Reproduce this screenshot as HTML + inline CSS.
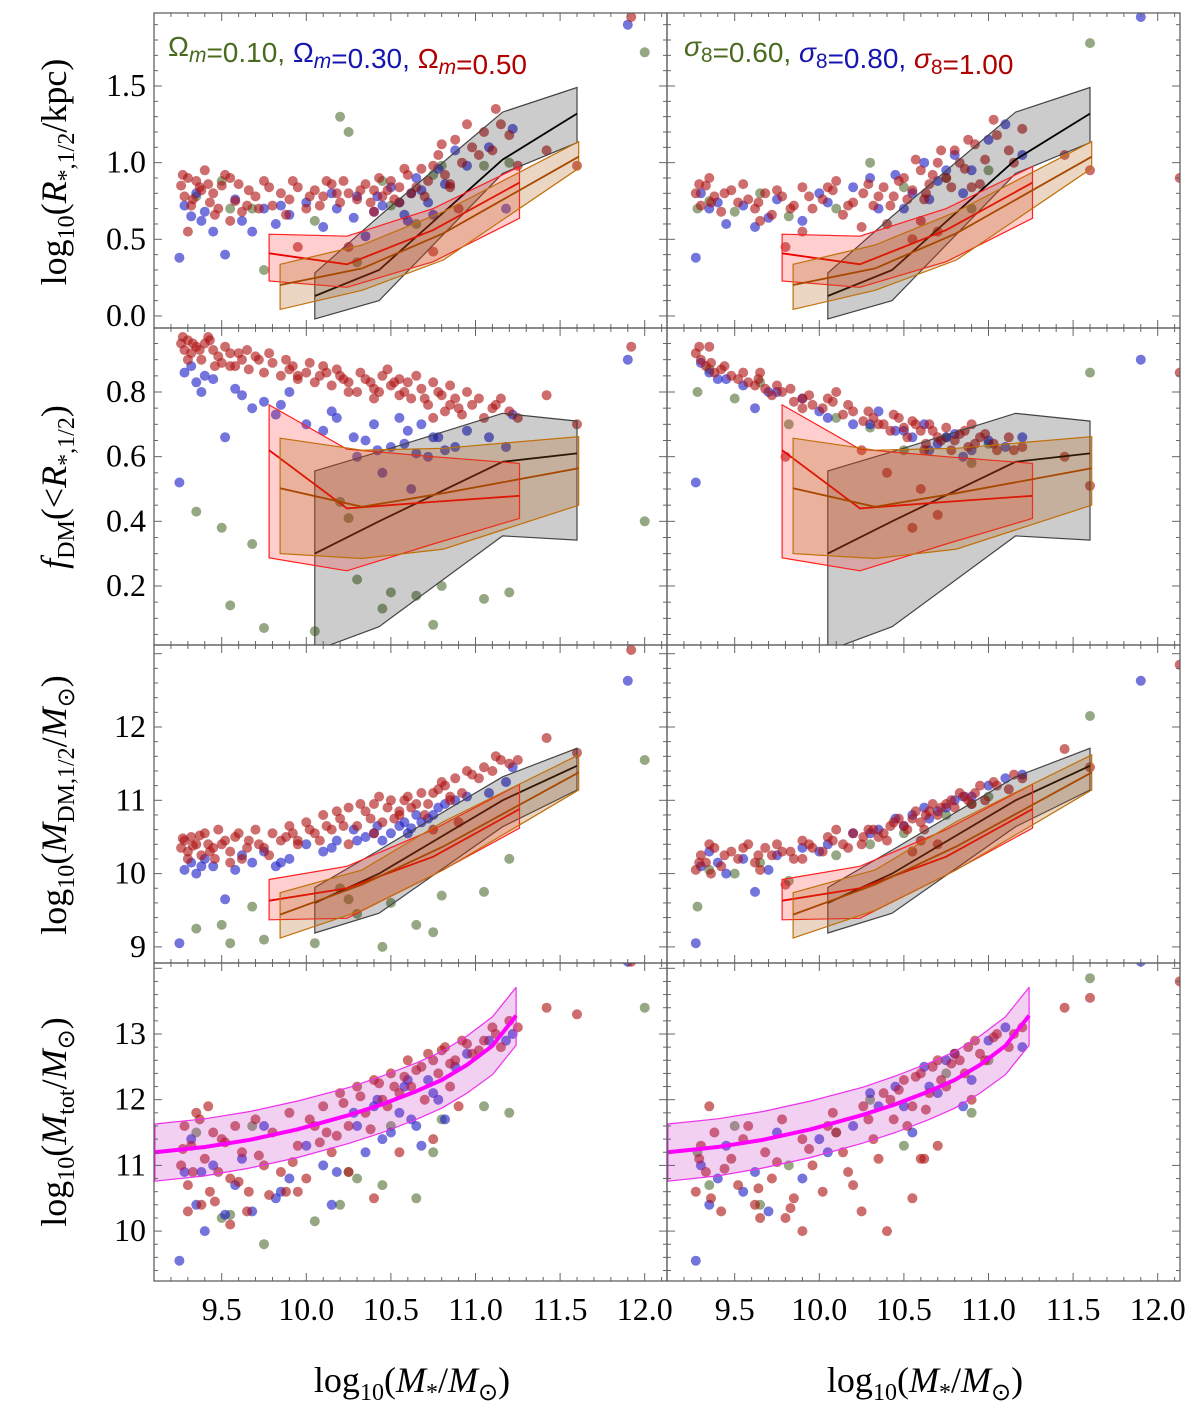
<!DOCTYPE html>
<html><head><meta charset="utf-8"><style>
html,body{margin:0;padding:0;background:#fff;}
svg{display:block;}
</style></head><body>
<svg id="chart" width="1200" height="1412" viewBox="0 0 1200 1412" xmlns="http://www.w3.org/2000/svg">
<defs>
<clipPath id="clipL"><rect x="154" y="13" width="513" height="1268"/></clipPath>
<clipPath id="clipR"><rect x="667" y="13" width="514" height="1268"/></clipPath>
</defs>
<g id="layer"></g>
</svg>
<script>
// ---------------- DATA ----------------
const xTicks = [9.5, 10.0, 10.5, 11.0, 11.5, 12.0];
const yTicksR = [0.0, 0.5, 1.0, 1.5];
const yTicksF = [0.2, 0.4, 0.6, 0.8];
const yTicksMdm = [9, 10, 11, 12];
const yTicksMtot = [10, 11, 12, 13];

const blackX = [10.05, 10.43, 11.16, 11.6];
const blackR_up = [0.28, 0.65, 1.33, 1.49];
const blackR_med = [0.13, 0.30, 1.02, 1.32];
const blackR_lo = [-0.02, 0.10, 0.93, 1.13];
const blackF_up = [0.556, 0.615, 0.734, 0.71];
const blackF_med = [0.30, 0.40, 0.584, 0.61];
const blackF_lo = [0.0, 0.074, 0.355, 0.342];
const blackM_up = [9.81, 10.32, 11.32, 11.71];
const blackM_med = [9.6, 10.0, 11.0, 11.47];
const blackM_lo = [9.19, 9.46, 10.64, 11.14];

const redX = [9.78, 10.24, 10.75, 11.26];
const redR_up = [0.533, 0.52, 0.70, 0.974];
const redR_med = [0.409, 0.337, 0.56, 0.87];
const redR_lo = [0.228, 0.187, 0.354, 0.637];
const redF_up = [0.76, 0.623, 0.60, 0.579];
const redF_med = [0.62, 0.44, 0.46, 0.479];
const redF_lo = [0.287, 0.247, 0.33, 0.409];
const redM_up = [9.92, 10.10, 10.6, 11.22];
const redM_med = [9.63, 9.8, 10.23, 10.88];
const redM_lo = [9.37, 9.39, 9.98, 10.62];

const orX = [9.845, 10.33, 10.81, 11.61];
const orR_up = [0.337, 0.463, 0.68, 1.137];
const orR_med = [0.202, 0.31, 0.539, 1.039];
const orR_lo = [0.043, 0.167, 0.365, 0.963];
const orF_up = [0.657, 0.62, 0.626, 0.662];
const orF_med = [0.502, 0.445, 0.487, 0.564];
const orF_lo = [0.30, 0.285, 0.314, 0.45];
const orM_up = [9.74, 10.05, 10.71, 11.62];
const orM_med = [9.44, 9.85, 10.37, 11.38];
const orM_lo = [9.12, 9.5, 10.05, 11.14];

const magX = [9.105, 9.4, 9.667, 9.95, 10.258, 10.45, 10.65, 10.8, 10.95, 11.1, 11.24];
const magMed = [11.20, 11.28, 11.39, 11.55, 11.77, 11.93, 12.13, 12.30, 12.53, 12.82, 13.28];
const magUp = [11.63, 11.71, 11.82, 11.98, 12.19, 12.36, 12.56, 12.73, 12.97, 13.26, 13.71];
const magLo = [10.76, 10.84, 10.96, 11.12, 11.34, 11.50, 11.70, 11.87, 12.10, 12.38, 12.83];

// galaxies: [logM*, logR, fDM, logMdm, logMtot]
const leftRed = [
[9.26,0.85,0.95,10.35,11.0],[9.28,0.78,0.93,10.45,11.6],[9.30,0.90,0.96,10.30,10.7],[9.32,0.72,0.92,10.50,11.3],
[9.35,0.88,0.94,10.40,11.8],[9.38,0.82,0.90,10.25,10.4],[9.40,0.95,0.95,10.55,11.1],[9.45,0.80,0.93,10.35,11.5],
[9.48,0.70,0.91,10.60,10.9],[9.50,0.85,0.89,10.40,11.4],[9.55,0.90,0.92,10.30,10.8],[9.58,0.75,0.88,10.50,11.6],
[9.62,0.68,0.90,10.20,11.2],[9.66,0.82,0.87,10.45,10.6],[9.70,0.78,0.91,10.60,11.7],[9.75,0.88,0.86,10.35,11.0],
[9.80,0.72,0.89,10.55,11.5],[9.85,0.80,0.85,10.45,10.9],[9.90,0.76,0.87,10.65,11.8],[9.95,0.84,0.84,10.40,11.3],
[10.00,0.70,0.86,10.70,10.8],[10.05,0.82,0.83,10.55,11.6],[10.10,0.78,0.88,10.80,11.9],[10.15,0.86,0.82,10.60,11.2],
[10.20,0.74,0.85,10.75,12.1],[10.25,0.80,0.83,10.90,11.6],[10.30,0.76,0.80,10.65,12.2],[10.35,0.86,0.84,10.85,11.8],
[10.40,0.82,0.81,10.95,12.3],[10.45,0.78,0.85,10.70,12.0],[10.50,0.88,0.82,11.00,12.4],[10.55,0.84,0.79,10.85,12.1],
[10.60,0.92,0.83,11.05,12.6],[10.62,0.80,0.78,10.90,12.2],[10.68,0.96,0.81,11.10,12.5],[10.72,0.88,0.76,10.95,12.7],
[10.78,1.05,0.80,11.15,12.4],[10.82,0.92,0.74,11.20,12.8],[10.88,1.15,0.78,11.30,12.6],[10.92,1.00,0.73,11.10,12.9],
[10.98,1.10,0.76,11.35,12.7],[11.05,1.20,0.72,11.45,12.9],[11.10,1.08,0.75,11.40,13.1],[11.15,1.25,0.78,11.55,12.8],
[11.20,1.18,0.74,11.50,13.2],[11.42,1.08,0.79,11.85,13.4],[11.60,0.98,0.70,11.65,13.3],[11.92,1.95,0.94,13.05,14.1],
[9.30,0.55,0.90,10.20,10.3],[9.95,0.45,0.85,10.45,10.6],[10.25,0.45,0.80,10.40,10.9],[10.75,0.42,0.72,10.60,11.4],
[10.40,0.68,0.78,10.55,10.5],[9.55,0.62,0.88,10.15,10.1],[9.42,0.86,0.97,10.40,11.9],[9.65,0.72,0.93,10.35,10.3],
[10.12,0.88,0.86,10.65,11.5],[10.55,0.74,0.84,10.80,11.2],[10.85,0.86,0.82,11.05,12.2],[9.88,0.66,0.90,10.50,10.6],
[9.27,0.92,0.97,10.48,11.25],[9.33,0.76,0.95,10.38,10.9],[9.37,0.84,0.93,10.52,11.7],[9.43,0.74,0.96,10.30,10.6],
[9.52,0.92,0.94,10.45,11.35],[9.6,0.86,0.92,10.55,10.75],[9.72,0.70,0.90,10.40,11.15],[9.78,0.84,0.92,10.25,10.55],
[9.92,0.88,0.88,10.55,11.05],[10.02,0.78,0.89,10.60,11.7],[10.08,0.72,0.85,10.45,11.35],[10.18,0.80,0.87,10.85,11.45],
[10.22,0.88,0.84,10.65,11.95],[10.32,0.82,0.86,10.95,12.05],[10.38,0.74,0.83,10.75,11.55],[10.43,0.90,0.80,11.05,12.25],
[10.48,0.82,0.87,10.90,11.9],[10.52,0.76,0.83,10.75,12.2],[10.58,0.96,0.80,11.00,12.35],[10.65,0.84,0.85,10.95,12.45],
[10.7,0.78,0.78,10.80,12.0],[10.75,0.98,0.83,11.10,12.6],[10.8,1.12,0.79,11.25,12.75],[10.85,0.84,0.76,11.00,12.55],
[10.95,1.25,0.80,11.40,12.85],[11.02,1.05,0.78,11.30,12.75],[11.12,1.35,0.76,11.60,13.0],[11.25,0.98,0.72,11.55,13.1],
[9.46,0.66,0.88,10.20,10.45],[10.9,0.70,0.75,10.70,11.9]
];
const leftBlue = [
[9.25,0.38,0.52,9.05,9.55],[9.28,0.72,0.86,10.05,10.9],[9.32,0.65,0.88,10.15,11.4],[9.35,0.80,0.83,10.00,10.4],
[9.40,0.68,0.85,10.20,10.0],[9.45,0.55,0.84,10.10,11.0],[9.52,0.40,0.66,9.65,10.25],[9.58,0.76,0.81,10.05,10.7],
[9.62,0.62,0.79,10.25,11.1],[9.68,0.55,0.75,10.15,10.3],[9.75,0.70,0.77,10.30,11.6],[9.82,0.60,0.73,10.10,10.5],
[9.90,0.66,0.80,10.20,10.8],[10.00,0.74,0.70,10.40,11.3],[10.10,0.58,0.68,10.30,11.0],[10.18,0.70,0.72,10.45,10.9],
[10.28,0.64,0.66,10.60,11.8],[10.35,0.52,0.65,10.50,11.2],[10.42,0.78,0.62,10.65,12.0],[10.50,0.84,0.63,10.55,11.5],
[10.58,0.66,0.64,10.70,12.2],[10.65,0.90,0.61,10.80,11.6],[10.72,0.74,0.60,10.75,12.3],[10.78,0.96,0.66,10.90,12.0],
[10.88,1.08,0.63,11.00,12.5],[10.95,0.98,0.68,11.05,12.7],[11.08,1.10,0.66,11.10,12.9],[11.22,1.22,0.73,11.45,13.0],
[11.18,0.70,0.63,11.25,12.9],[11.90,1.90,0.90,12.63,14.1],[10.45,0.72,0.55,10.45,11.4],[10.62,0.80,0.50,10.62,11.7],
[10.55,0.74,0.72,10.65,11.8],[10.6,0.62,0.68,10.55,12.3],[10.68,0.82,0.70,10.70,11.3],[10.75,0.66,0.66,10.80,12.1],
[10.82,0.86,0.62,10.95,11.7],[9.38,0.62,0.80,10.10,10.9],[9.85,0.72,0.76,10.15,10.6],[10.15,0.80,0.74,10.35,10.4],
[10.4,0.68,0.70,10.55,11.9],[10.3,0.78,0.60,10.45,11.6]
];
const leftGreen = [
[9.35,0.78,0.43,9.25,11.5],[9.50,0.88,0.38,9.30,10.2],[9.55,0.70,0.14,9.05,10.25],[9.75,0.30,0.07,9.10,9.8],
[9.68,0.70,0.33,9.55,11.6],[10.05,0.62,0.06,9.05,10.15],[10.20,1.30,0.46,9.80,10.4],[10.25,1.20,0.41,9.65,10.9],
[10.45,0.88,0.13,9.00,10.7],[10.50,0.72,0.18,9.60,11.6],[10.65,0.60,0.17,9.30,10.5],[10.80,0.98,0.20,9.70,11.7],
[11.05,0.98,0.16,9.75,11.9],[10.30,0.35,0.22,9.45,10.8],[10.75,0.92,0.08,9.20,11.2],[11.20,1.00,0.18,10.2,11.8],
[12.00,1.72,0.40,11.55,13.4]
];
const rightRed = [
[9.27,0.80,0.92,10.05,10.6],[9.30,0.72,0.90,10.25,11.3],[9.33,0.85,0.88,10.15,10.9],[9.38,0.78,0.86,10.35,11.5],
[9.42,0.68,0.87,10.10,10.3],[9.48,0.82,0.85,10.30,11.1],[9.52,0.74,0.84,10.20,10.7],[9.58,0.76,0.83,10.40,11.6],
[9.62,0.70,0.82,10.15,10.4],[9.68,0.80,0.81,10.35,11.2],[9.72,0.66,0.79,10.25,10.8],[9.78,0.78,0.80,10.30,11.7],
[9.85,0.72,0.77,10.20,10.5],[9.90,0.84,0.78,10.45,11.4],[9.96,0.70,0.76,10.35,11.0],[10.02,0.76,0.75,10.30,10.6],
[10.08,0.82,0.77,10.45,11.8],[10.14,0.66,0.73,10.40,11.2],[10.20,0.74,0.74,10.55,10.7],[10.26,0.80,0.71,10.50,11.9],
[10.32,0.72,0.72,10.60,11.4],[10.38,0.84,0.70,10.55,12.1],[10.44,0.78,0.73,10.70,11.7],[10.50,0.90,0.69,10.65,12.3],
[10.55,0.82,0.71,10.75,11.9],[10.60,0.95,0.68,10.70,12.4],[10.65,0.86,0.70,10.85,12.1],[10.70,1.00,0.66,10.80,12.6],
[10.75,0.90,0.69,10.95,12.2],[10.80,1.08,0.65,10.90,12.7],[10.86,0.96,0.68,11.05,12.4],[10.92,1.12,0.64,11.10,12.9],
[10.98,1.02,0.67,11.00,12.6],[11.05,1.18,0.62,11.20,13.0],[11.12,1.08,0.66,11.15,12.8],[11.20,1.22,0.63,11.30,13.1],
[11.45,1.05,0.60,11.70,13.4],[11.60,0.95,0.51,11.45,13.55],[10.55,0.50,0.38,10.30,10.5],[10.70,0.55,0.42,10.40,11.3],
[9.80,0.45,0.60,9.85,10.2],[10.40,0.60,0.55,10.45,10.0],[12.13,0.90,0.86,12.85,13.8],[9.35,0.90,0.94,10.40,11.9],
[9.65,0.62,0.86,10.05,10.2],[10.10,0.88,0.80,10.60,11.5],[10.62,0.76,0.62,10.60,11.1],[10.90,0.84,0.70,10.95,12.0],
[9.29,0.86,0.94,10.15,11.1],[9.36,0.74,0.89,10.00,10.5],[9.44,0.80,0.88,10.25,10.95],[9.55,0.86,0.86,10.35,11.4],
[9.64,0.74,0.84,10.25,10.65],[9.75,0.82,0.82,10.40,11.05],[9.83,0.70,0.81,10.30,10.35],[9.94,0.78,0.79,10.40,11.25],
[10.05,0.84,0.78,10.50,11.6],[10.17,0.72,0.76,10.35,10.9],[10.29,0.86,0.74,10.60,11.7],[10.35,0.78,0.70,10.50,11.1],
[10.42,0.72,0.68,10.65,12.0],[10.47,0.88,0.72,10.75,12.15],[10.52,0.76,0.66,10.60,11.6],[10.57,1.02,0.70,10.85,12.35],
[10.63,0.80,0.64,10.80,11.85],[10.67,0.92,0.68,10.95,12.5],[10.72,1.08,0.65,10.90,12.3],[10.78,0.84,0.62,11.00,12.55],
[10.83,1.0,0.67,11.10,12.6],[10.88,1.15,0.63,11.00,12.8],[10.95,0.86,0.66,11.20,12.7],[11.03,1.28,0.64,11.25,12.95],
[11.15,1.00,0.62,11.35,13.0],[10.6,0.62,0.50,10.45,11.1],[10.25,0.58,0.62,10.40,10.3],[9.9,0.55,0.75,10.2,10.0]
];
const rightBlue = [
[9.27,0.38,0.52,9.05,9.55],[9.30,0.80,0.89,10.10,11.0],[9.35,0.70,0.86,10.30,10.4],[9.45,0.60,0.84,10.00,11.3],
[9.55,0.72,0.82,10.20,10.6],[9.62,0.58,0.75,9.75,10.9],[9.75,0.76,0.80,10.25,11.5],[9.90,0.62,0.78,10.35,10.8],
[10.05,0.74,0.72,10.40,11.2],[10.20,0.84,0.70,10.55,11.6],[10.35,0.70,0.74,10.60,11.9],[10.45,0.92,0.68,10.75,12.2],
[10.55,0.80,0.66,10.80,11.5],[10.62,1.00,0.70,10.90,12.5],[10.70,0.88,0.64,10.85,12.1],[10.80,1.05,0.67,11.00,12.7],
[10.90,0.95,0.62,11.05,12.3],[11.00,1.15,0.65,11.20,12.9],[11.10,1.25,0.63,11.30,13.1],[11.20,1.05,0.66,11.35,12.8],
[11.90,1.95,0.90,12.63,14.1],[9.4,0.74,0.84,10.15,10.8],[9.7,0.64,0.80,10.05,10.3],[10.0,0.80,0.74,10.30,11.4],
[10.5,0.70,0.68,10.65,11.9],[10.75,0.95,0.66,10.90,12.6],[10.85,0.80,0.60,11.05,11.9],[10.65,0.76,0.62,10.75,12.2],
[10.3,0.90,0.70,10.55,12.1]
];
const rightGreen = [
[9.28,0.70,0.80,9.55,11.2],[9.35,0.75,0.87,10.05,10.7],[9.50,0.68,0.78,10.00,11.6],[9.65,0.80,0.83,10.15,10.4],
[9.82,0.65,0.70,9.90,11.0],[10.10,0.70,0.72,10.25,11.5],[10.30,1.00,0.69,10.40,12.0],[10.50,0.84,0.62,10.55,11.3],
[10.75,0.90,0.66,10.80,12.4],[10.90,0.70,0.58,10.95,11.8],[11.00,0.95,0.64,11.05,12.6],[11.60,1.78,0.86,12.15,13.85]
];

// ---------------- GEOMETRY ----------------
const NS = 'http://www.w3.org/2000/svg';
const layer = document.getElementById('layer');
const colX0 = [154, 667];
const panelW = 513;
const rowY0 = [13, 328, 645, 963];
const rowY1 = [328, 645, 963, 1281];
function xScale(col, v) { return colX0[col] + 152.3 + (v - 10) * 169.2; }
const yScales = [
  v => 86 + (1.5 - v) * 153.3,
  v => 392 + (0.8 - v) * 323.3,
  v => 727 + (12 - v) * 73.3,
  v => 1034 + (13 - v) * 65.7
];
function mk(tag, attrs, parent) {
  const e = document.createElementNS(NS, tag);
  for (const k in attrs) e.setAttribute(k, attrs[k]);
  (parent || layer).appendChild(e);
  return e;
}

const dotColors = { red: 'rgba(175,20,20,0.62)', blue: 'rgba(30,30,200,0.62)', green: 'rgba(85,115,55,0.62)' };
const colData = [
  { red: leftRed, blue: leftBlue, green: leftGreen },
  { red: rightRed, blue: rightBlue, green: rightGreen }
];
const bandSets = [
  [{ x: blackX, up: blackR_up, med: blackR_med, lo: blackR_lo, k: 'black' },
   { x: redX, up: redR_up, med: redR_med, lo: redR_lo, k: 'red' },
   { x: orX, up: orR_up, med: orR_med, lo: orR_lo, k: 'orange' }],
  [{ x: blackX, up: blackF_up, med: blackF_med, lo: blackF_lo, k: 'black' },
   { x: redX, up: redF_up, med: redF_med, lo: redF_lo, k: 'red' },
   { x: orX, up: orF_up, med: orF_med, lo: orF_lo, k: 'orange' }],
  [{ x: blackX, up: blackM_up, med: blackM_med, lo: blackM_lo, k: 'black' },
   { x: redX, up: redM_up, med: redM_med, lo: redM_lo, k: 'red' },
   { x: orX, up: orM_up, med: orM_med, lo: orM_lo, k: 'orange' }]
];
const bandStyle = {
  black: { fill: 'rgba(0,0,0,0.2)', edge: '#444', med: '#000' },
  red: { fill: 'rgba(255,30,30,0.22)', edge: '#ff2020', med: '#ee0000' },
  orange: { fill: 'rgba(170,90,10,0.25)', edge: '#c0700a', med: '#a84800' }
};

for (let col = 0; col < 2; col++) {
  const clip = mk('g', { 'clip-path': col === 0 ? 'url(#clipL)' : 'url(#clipR)' });
  
  
  for (let row = 0; row < 4; row++) {
    const ys = yScales[row];
    const g = mk('g', {}, clip);
    
    
    const cp = mk('clipPath', { id: 'pc' + col + row }, g);
    mk('rect', { x: colX0[col], y: rowY0[row], width: panelW, height: rowY1[row] - rowY0[row] }, cp);
    const inner = mk('g', { 'clip-path': 'url(#pc' + col + row + ')' }, g);
    ['green', 'blue', 'red'].forEach(c => {
      colData[col][c].forEach(p => {
        const d = mk('circle', { cx: xScale(col, p[0]).toFixed(1), cy: ys(p[row + 1]).toFixed(1), r: 5, fill: dotColors[c] }, inner);
        
        
      });
    });
    if (row < 3) {
      bandSets[row].forEach(b => {
        const st = bandStyle[b.k];
        const upPts = b.x.map((v, i) => xScale(col, v).toFixed(1) + ',' + ys(b.up[i]).toFixed(1));
        const loPts = b.x.map((v, i) => xScale(col, v).toFixed(1) + ',' + ys(b.lo[i]).toFixed(1)).reverse();
        const poly = mk('polygon', { points: upPts.concat(loPts).join(' '), fill: st.fill, stroke: st.edge, 'stroke-width': 1.2 }, inner);
        
        
        const medPts = b.x.map((v, i) => xScale(col, v).toFixed(1) + ',' + ys(b.med[i]).toFixed(1));
        const ln = mk('polyline', { points: medPts.join(' '), fill: 'none', stroke: st.med, 'stroke-width': 1.8 }, inner);
        
        
      });
    } else {
      const upPts = magX.map((v, i) => xScale(col, v).toFixed(1) + ',' + ys(magUp[i]).toFixed(1));
      const loPts = magX.map((v, i) => xScale(col, v).toFixed(1) + ',' + ys(magLo[i]).toFixed(1)).reverse();
      const poly = mk('polygon', { points: upPts.concat(loPts).join(' '), fill: 'rgba(190,40,190,0.22)', stroke: '#ee30ee', 'stroke-width': 1.2, 'stroke-linejoin': 'round' }, inner);
      
      
      const medPts = magX.map((v, i) => xScale(col, v).toFixed(1) + ',' + ys(magMed[i]).toFixed(1));
      const ln = mk('polyline', { points: medPts.join(' '), fill: 'none', stroke: '#ff00ff', 'stroke-width': 4, 'stroke-linejoin': 'round' }, inner);
      
      
    }
    const fr = mk('rect', { x: colX0[col], y: rowY0[row], width: panelW, height: rowY1[row] - rowY0[row], fill: 'none', stroke: '#555', 'stroke-width': 1.2 }, layer);
    
    
    for (let t = 9.1; t <= 12.15; t += 0.1) {
      const xx = xScale(col, t);
      if (xx < colX0[col] + 1 || xx > colX0[col] + panelW - 1) continue;
      const major = Math.abs(t * 2 - Math.round(t * 2)) < 0.01;
      const L = major ? 8 : 4;
      mk('line', { x1: xx, x2: xx, y1: rowY1[row], y2: rowY1[row] - L, stroke: '#666', 'stroke-width': 1 });
      mk('line', { x1: xx, x2: xx, y1: rowY0[row], y2: rowY0[row] + L, stroke: '#666', 'stroke-width': 1 });
    }
    const steps = [[-0.1, 2.0, 0.1, 0.5], [0.0, 1.0, 0.05, 0.2], [8.6, 13.2, 0.2, 1], [9.2, 14.2, 0.2, 1]][row];
    for (let t = steps[0]; t <= steps[1] + 1e-6; t += steps[2]) {
      const yy = ys(t);
      if (yy < rowY0[row] + 2 || yy > rowY1[row] - 2) continue;
      const major = Math.abs(t / steps[3] - Math.round(t / steps[3])) < 0.01;
      const L = major ? 8 : 4;
      mk('line', { x1: colX0[col], x2: colX0[col] + L, y1: yy, y2: yy, stroke: '#666', 'stroke-width': 1 });
      mk('line', { x1: colX0[col] + panelW, x2: colX0[col] + panelW - L, y1: yy, y2: yy, stroke: '#666', 'stroke-width': 1 });
    }
  }
  xTicks.forEach(v => {
    const t = mk('text', { x: xScale(col, v), y: 1320, 'text-anchor': 'middle', 'font-family': 'Liberation Serif, serif', 'font-size': 32, fill: '#000' });
    t.textContent = v.toFixed(1);
    
    
  });
  const xt = mk('text', { x: colX0[col] + 258, y: 1392, 'text-anchor': 'middle', 'font-family': 'Liberation Serif, serif', 'font-size': 36, fill: '#000' });
  xt.innerHTML = 'log<tspan font-size="24" dy="8">10</tspan><tspan dy="-8">(</tspan><tspan font-style="italic">M</tspan><tspan font-size="24" dy="8">*</tspan><tspan dy="-8">/</tspan><tspan font-style="italic">M</tspan><tspan font-size="24" dy="8">⊙</tspan><tspan dy="-8">)</tspan>';
  
  
}

const yTickSets = [yTicksR, yTicksF, yTicksMdm, yTicksMtot];
yTickSets.forEach((arr, row) => {
  arr.forEach(v => {
    const t = mk('text', { x: 146, y: yScales[row](v) + 10, 'text-anchor': 'end', 'font-family': 'Liberation Serif, serif', 'font-size': 32, fill: '#000' });
    t.textContent = row < 2 ? v.toFixed(1) : String(v);
    
    
  });
});

const yTitles = [
  'log<tspan font-size="24" dy="8">10</tspan><tspan dy="-8">(</tspan><tspan font-style="italic">R</tspan><tspan font-size="24" dy="8">*,1/2</tspan><tspan dy="-8">/kpc)</tspan>',
  '<tspan font-style="italic">f</tspan><tspan font-size="24" dy="8">DM</tspan><tspan dy="-8">(&lt;</tspan><tspan font-style="italic">R</tspan><tspan font-size="24" dy="8">*,1/2</tspan><tspan dy="-8">)</tspan>',
  'log<tspan font-size="24" dy="8">10</tspan><tspan dy="-8">(</tspan><tspan font-style="italic">M</tspan><tspan font-size="24" dy="8">DM,1/2</tspan><tspan dy="-8">/</tspan><tspan font-style="italic">M</tspan><tspan font-size="24" dy="8">⊙</tspan><tspan dy="-8">)</tspan>',
  'log<tspan font-size="24" dy="8">10</tspan><tspan dy="-8">(</tspan><tspan font-style="italic">M</tspan><tspan font-size="24" dy="8">tot</tspan><tspan dy="-8">/</tspan><tspan font-style="italic">M</tspan><tspan font-size="24" dy="8">⊙</tspan><tspan dy="-8">)</tspan>'
];
const yTitleCY = [172, 487, 805, 1122];
yTitles.forEach((h, row) => {
  const t = mk('text', { x: 0, y: 0, 'text-anchor': 'middle', 'font-family': 'Liberation Serif, serif', 'font-size': 36, fill: '#000', transform: 'translate(66,' + yTitleCY[row] + ') rotate(-90)' });
  t.innerHTML = h;
  
  
});

function legend(x, sym, vals, name) {
  const t = mk('text', { x: x, y: 56, 'font-family': 'Liberation Sans, DejaVu Sans, sans-serif', 'font-size': 28 });
  const cols = ['#4a6b1f', '#1515b0', '#b00000'];
  let html = '';
  vals.forEach((v, i) => {
    html += '<tspan fill="' + cols[i] + '">' + sym + '=' + v + (i < 2 ? ', ' : '') + '</tspan>';
  });
  t.innerHTML = html;
  
  
}
legend(168, 'Ω<tspan font-style="italic" font-size="21" dy="6">m</tspan><tspan dy="-6"></tspan>', ['0.10', '0.30', '0.50'], 'omega-m-legend');
legend(684, '<tspan font-style="italic">σ</tspan><tspan font-size="21" dy="6">8</tspan><tspan dy="-6"></tspan>', ['0.60', '0.80', '1.00'], 'sigma8-legend');
</script>
</body></html>
